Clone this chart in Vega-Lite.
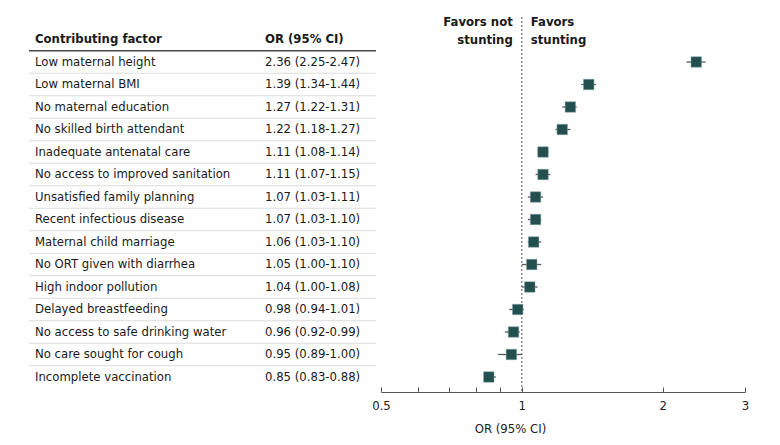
{
  "$schema": "https://vega.github.io/schema/vega-lite/v6.json",
  "padding": {"left": 28, "top": 15, "right": 0, "bottom": 0},
  "background": "white",
  "bounds": "flush",
  "spacing": 5,
  "config": {"view": {"stroke": null}, "font": "DejaVu Sans Condensed, Liberation Sans, sans-serif"},
  "datasets": {
    "rows": [
      {"rank": 1, "factor": "Low maternal height", "or": 2.36, "lo": 2.25, "hi": 2.47, "label": "2.36 (2.25-2.47)"},
      {"rank": 2, "factor": "Low maternal BMI", "or": 1.39, "lo": 1.34, "hi": 1.44, "label": "1.39 (1.34-1.44)"},
      {"rank": 3, "factor": "No maternal education", "or": 1.27, "lo": 1.22, "hi": 1.31, "label": "1.27 (1.22-1.31)"},
      {"rank": 4, "factor": "No skilled birth attendant", "or": 1.22, "lo": 1.18, "hi": 1.27, "label": "1.22 (1.18-1.27)"},
      {"rank": 5, "factor": "Inadequate antenatal care", "or": 1.11, "lo": 1.08, "hi": 1.14, "label": "1.11 (1.08-1.14)"},
      {"rank": 6, "factor": "No access to improved sanitation", "or": 1.11, "lo": 1.07, "hi": 1.15, "label": "1.11 (1.07-1.15)"},
      {"rank": 7, "factor": "Unsatisfied family planning", "or": 1.07, "lo": 1.03, "hi": 1.11, "label": "1.07 (1.03-1.11)"},
      {"rank": 8, "factor": "Recent infectious disease", "or": 1.07, "lo": 1.03, "hi": 1.10, "label": "1.07 (1.03-1.10)"},
      {"rank": 9, "factor": "Maternal child marriage", "or": 1.06, "lo": 1.03, "hi": 1.10, "label": "1.06 (1.03-1.10)"},
      {"rank": 10, "factor": "No ORT given with diarrhea", "or": 1.05, "lo": 1.00, "hi": 1.10, "label": "1.05 (1.00-1.10)"},
      {"rank": 11, "factor": "High indoor pollution", "or": 1.04, "lo": 1.00, "hi": 1.08, "label": "1.04 (1.00-1.08)"},
      {"rank": 12, "factor": "Delayed breastfeeding", "or": 0.98, "lo": 0.94, "hi": 1.01, "label": "0.98 (0.94-1.01)"},
      {"rank": 13, "factor": "No access to safe drinking water", "or": 0.96, "lo": 0.92, "hi": 0.99, "label": "0.96 (0.92-0.99)"},
      {"rank": 14, "factor": "No care sought for cough", "or": 0.95, "lo": 0.89, "hi": 1.00, "label": "0.95 (0.89-1.00)"},
      {"rank": 15, "factor": "Incomplete vaccination", "or": 0.85, "lo": 0.83, "hi": 0.88, "label": "0.85 (0.83-0.88)"}
    ],
    "headers": [
      {"col": "factor", "text": "Contributing factor"},
      {"col": "label", "text": "OR (95% CI)"}
    ],
    "notes": [
      {"side": "left", "text": "Favors not\nstunting"},
      {"side": "right", "text": "Favors\nstunting"}
    ]
  },
  "hconcat": [
    {
      "width": 347,
      "height": 375,
      "layer": [
        {
          "data": {"name": "rows"},
          "transform": [{"filter": "datum.rank < 15"}],
          "mark": {"type": "rule", "color": "#dcdcdc", "strokeWidth": 1, "yOffset": 11.25},
          "encoding": {
            "y": {"field": "rank", "type": "quantitative", "scale": {"domain": [-1, 15.667], "reverse": true, "nice": false, "zero": false}, "axis": null}
          }
        },
        {
          "data": {"values": [{}]},
          "mark": {"type": "rule", "color": "#4a4a4a", "strokeWidth": 1.5},
          "encoding": {"y": {"datum": 0.5, "type": "quantitative"}}
        },
        {
          "data": {"name": "headers"},
          "mark": {"type": "text", "align": "left", "baseline": "middle", "fontSize": 13, "fontWeight": "bold", "color": "#1a1a1a"},
          "encoding": {
            "x": {"field": "col", "type": "nominal", "scale": {"type": "point", "domain": ["factor", "label"], "range": [6, 236], "padding": 0}, "axis": null},
            "y": {"datum": 0.0, "type": "quantitative"},
            "text": {"field": "text"}
          }
        },
        {
          "data": {"name": "rows"},
          "transform": [{"fold": ["factor", "label"], "as": ["col", "text"]}],
          "mark": {"type": "text", "align": "left", "baseline": "middle", "fontSize": 13, "color": "#1a1a1a"},
          "encoding": {
            "x": {"field": "col", "type": "nominal", "axis": null},
            "y": {"field": "rank", "type": "quantitative"},
            "text": {"field": "text"}
          }
        }
      ]
    },
    {
      "width": 364,
      "height": 375,
      "layer": [
        {
          "data": {"values": [{}]},
          "mark": {"type": "rule", "color": "#555555", "strokeDash": [2, 2], "strokeWidth": 1},
          "encoding": {
            "x": {"datum": 1, "type": "quantitative", "scale": {"type": "log", "domain": [0.5, 3], "nice": false, "zero": false},
              "axis": {
                "values": [0.5, 0.6, 0.7, 0.8, 0.9, 1, 2, 3],
                "labelExpr": "indexof([0.5, 1, 2, 3], datum.value) >= 0 ? datum.label : ''",
                "labelFlush": false,
                "title": "OR (95% CI)",
                "grid": false,
                "domainColor": "#555555",
                "tickColor": "#555555",
                "tickSize": -5,
                "labelPadding": 12,
                "labelFontSize": 13,
                "labelColor": "#222222",
                "titleFontSize": 13,
                "titleFontWeight": "normal",
                "titleColor": "#222222",
                "titleX": 129,
                "titleY": 30,
                "titleAnchor": "middle"
              }
            }
          }
        },
        {
          "data": {"name": "notes"},
          "transform": [{"filter": "datum.side == 'left'"}],
          "mark": {"type": "text", "align": "right", "baseline": "middle", "dx": -9, "fontSize": 13, "fontWeight": "bold", "color": "#1a1a1a", "lineHeight": 18, "lineBreak": "\n"},
          "encoding": {"x": {"datum": 1, "type": "quantitative"}, "y": {"datum": -0.78, "type": "quantitative", "scale": {"domain": [-1, 15.667], "reverse": true, "nice": false, "zero": false}, "axis": null}, "text": {"field": "text"}}
        },
        {
          "data": {"name": "notes"},
          "transform": [{"filter": "datum.side == 'right'"}],
          "mark": {"type": "text", "align": "left", "baseline": "middle", "dx": 9, "fontSize": 13, "fontWeight": "bold", "color": "#1a1a1a", "lineHeight": 18, "lineBreak": "\n"},
          "encoding": {"x": {"datum": 1, "type": "quantitative"}, "y": {"datum": -0.78, "type": "quantitative"}, "text": {"field": "text"}}
        },
        {
          "data": {"name": "rows"},
          "mark": {"type": "rule", "color": "#555555", "strokeWidth": 1.3},
          "encoding": {"x": {"field": "lo", "type": "quantitative"}, "x2": {"field": "hi"}, "y": {"field": "rank", "type": "quantitative"}}
        },
        {
          "data": {"name": "rows"},
          "mark": {"type": "square", "color": "#23504f", "opacity": 1, "size": 110, "stroke": "#7fa3a0", "strokeWidth": 0.5},
          "encoding": {"x": {"field": "or", "type": "quantitative"}, "y": {"field": "rank", "type": "quantitative"}}
        }
      ]
    }
  ]
}
